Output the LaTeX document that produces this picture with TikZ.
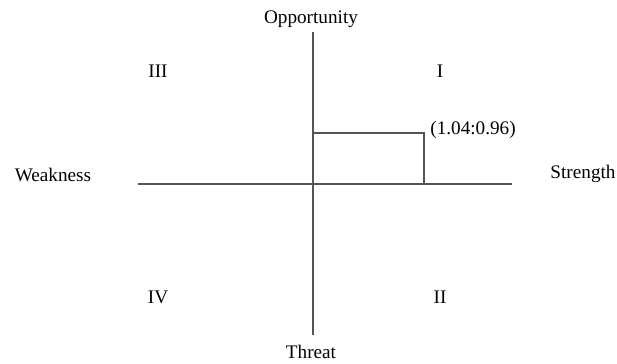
\documentclass[tikz,border=0pt]{standalone}
\usepackage{fontspec}
\setmainfont{Liberation Serif}
\usepackage{tikz}
\usetikzlibrary{positioning}
\definecolor{axisgray}{HTML}{555555}
\tikzset{
    axisline/.style={draw=axisgray, line width=0.8pt},
    poslabel/.style={font=\fontsize{9.6}{11}\selectfont, inner sep=1pt},
    quadlabel/.style={font=\fontsize{9.6}{11}\selectfont, inner sep=1pt},
}
\begin{document}
\begin{tikzpicture}[x=0.5pt,y=-0.5pt]
  \useasboundingbox (0,0) rectangle (617,364);

  % axis end points
  \coordinate (oTop)   at (313,32);
  \coordinate (oBot)   at (313,335);
  \coordinate (wLeft)  at (138,184);
  \coordinate (sRight) at (512,184);

  % axes
  \draw[axisline] (oTop) -- (oBot);
  \draw[axisline] (wLeft) -- (sRight);

  % axis labels
  \node[poslabel] (opp)  at (311,19)  {Opportunity};
  \node[poslabel] (thr)  at (311,352) {Threat};
  \node[poslabel] (weak) at (53,175)  {Weakness};
  \node[poslabel] (str)  at (583,174) {Strength};

  % quadrant numbers
  \node[quadlabel] (qI)   at (440,71)  {I};
  \node[quadlabel] (qII)  at (440,297) {II};
  \node[quadlabel] (qIII) at (158,71)  {III};
  \node[quadlabel] (qIV)  at (158,297) {IV};

  % position of the point (rectangle from origin)
  \coordinate (orig)   at (313,184);
  \coordinate (pt)     at (424,133);
  \draw[axisline] (orig |- pt) -- (pt) -- (pt |- orig);
  \node[poslabel, anchor=south west] (ptlbl) at ([xshift=2pt,yshift=-4pt]pt) {(1.04:0.96)};
\end{tikzpicture}
\end{document}
